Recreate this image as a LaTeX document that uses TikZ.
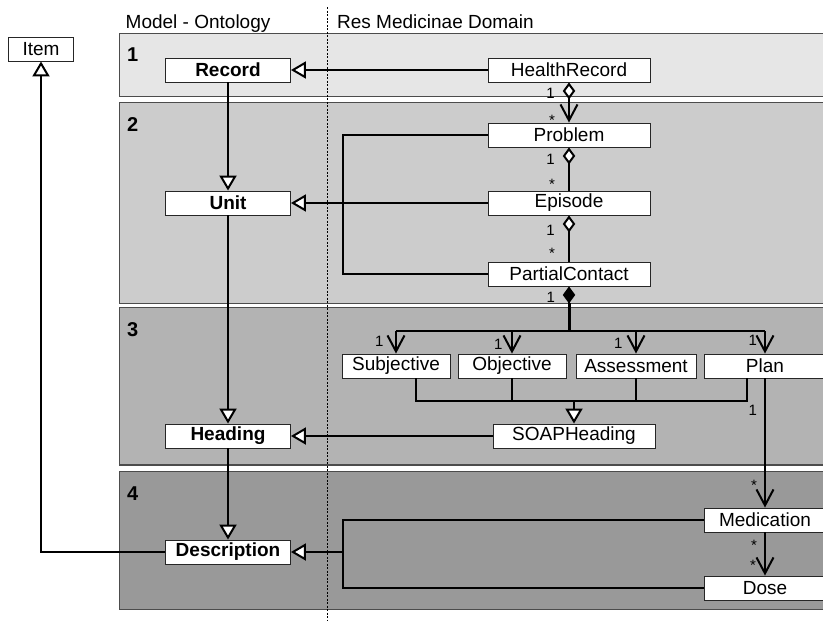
\documentclass[tikz,border=0pt]{standalone}
\usepackage{fontspec}
\setmainfont{Liberation Sans}
\usetikzlibrary{arrows.meta}
\definecolor{bandA}{HTML}{E6E6E6}
\definecolor{bandB}{HTML}{CCCCCC}
\definecolor{bandC}{HTML}{B3B3B3}
\definecolor{bandD}{HTML}{999999}
% a low-sitting asterisk whose box hugs the glyph
\newcommand{\lowstar}{\raisebox{-0.58em}[0.17em][0.17em]{*}}
\tikzset{
  genTip/.tip={Triangle[length=15pt,width=17pt,fill=white]},
  navTip/.tip={Straight Barb[length=16pt,width=17pt]},
  aggTip/.tip={Diamond[length=17pt,width=12.5pt,fill=white]},
  compTip/.tip={Diamond[length=17pt,width=12.5pt]},
  band/.style={draw=black!70,line width=1.1pt},
  cls/.style={draw=black!85,fill=white,line width=0.9pt,rectangle,inner sep=0pt,
    minimum height=24pt,font=\fontsize{19}{22}\selectfont},
  core/.style={cls,minimum width=125pt,font=\fontsize{19}{22}\selectfont\bfseries},
  dom/.style={cls,minimum width=162pt},
  mult/.style={anchor=base,inner sep=0pt,font=\fontsize{15}{17}\selectfont},
  bandnum/.style={anchor=north west,inner sep=0pt,font=\fontsize{20}{22}\selectfont\bfseries},
  head/.style={anchor=base west,inner sep=0pt,font=\fontsize{19}{22}\selectfont},
  link/.style={line width=2pt,draw=black},
}
\begin{document}
\begin{tikzpicture}[x=1pt,y=-1pt]
\useasboundingbox (0,0) rectangle (823,621);

% layer bands
\begin{scope}
  \clip (0,0) rectangle (823,621);
  \draw[band,fill=bandA] (119.5,33.3) rectangle (840,96.7);
  \draw[band,fill=bandB] (119.5,102.7) rectangle (840,303.3);
  \draw[band,fill=bandC] (119.5,307.7) rectangle (840,465);
  \draw[band,fill=bandD] (119.5,471.3) rectangle (840,609.3);
\end{scope}
\node[bandnum] (n1) at (127,47.5) {1};
\node[bandnum] (n2) at (127,117) {2};
\node[bandnum] (n3) at (127,322) {3};
\node[bandnum] (n4) at (127,486.5) {4};

% column divider and headings
\draw[line width=0.8pt,dash pattern=on 2pt off 1.5pt] (327.5,7) -- (327.5,621);
\node[head] (hModel) at (125.5,28.3) {Model - Ontology};
\node[head] (hDomain) at (337,28.3) {Res Medicinae Domain};

% ontology classes
\node[cls,minimum width=65pt] (Item) at (41,49) {Item};
\node[core] (Record) at (228,70) {Record};
\node[core] (Unit) at (228,203) {Unit};
\node[core] (Heading) at (228,436) {Heading};
\node[core] (Description) at (228,552) {Description};

% domain classes
\node[dom] (HealthRecord) at (569,70) {HealthRecord};
\node[dom] (Problem) at (569,135) {Problem};
\node[dom] (Episode) at (569,203) {Episode};
\node[dom] (PartialContact) at (569,274) {PartialContact};
\node[cls,minimum width=108pt] (Subjective) at (396,366) {Subjective};
\node[cls,minimum width=108pt] (Objective) at (512,366) {Objective};
\node[cls,minimum width=120pt] (Assessment) at (636,366) {Assessment};
\node[cls,minimum width=121pt] (Plan) at (765,366) {Plan};
\node[dom] (SOAPHeading) at (574,436) {SOAPHeading};
\node[cls,minimum width=122pt] (Medication) at (765,520) {Medication};
\node[cls,minimum width=122pt] (Dose) at (765,588) {Dose};

% helper points
\coordinate (busA) at (343,203);
\coordinate (busB) at (343,552);
\coordinate (compJ) at (569,331);
\coordinate (compBase) at ([yshift=-17pt]PartialContact.south);
\coordinate (soapJ) at (574,401);
\coordinate (sBot) at ([xshift=20pt]Subjective.south);
\coordinate (pBot) at ([xshift=-18pt]Plan.south);

% generalisations
\draw[link,-genTip] (HealthRecord.west) -- (Record.east);
\draw[link,-genTip] (Record.south) -- (Unit.north);
\draw[link,-genTip] (Unit.south) -- (Heading.north);
\draw[link,-genTip] (Heading.south) -- (Description.north);
\draw[link,-genTip] (Description.west) -| (Item.south);
\draw[link] (Problem.west) -| (busA) |- (PartialContact.west);
\draw[link,-genTip] (Episode.west) -- (Unit.east);
\draw[link] (sBot) |- (pBot |- soapJ) -- (pBot);
\draw[link] (Objective.south) -- (Objective.south |- soapJ);
\draw[link] (Assessment.south) -- (Assessment.south |- soapJ);
\draw[link,-genTip] (soapJ) -- (SOAPHeading.north);
\draw[link,-genTip] (SOAPHeading.west) -- (Heading.east);
\draw[link] (Medication.west) -| (busB) |- (Dose.west);
\draw[link,-genTip] (busB) -- (Description.east);

% aggregations
\draw[link,aggTip-navTip] (HealthRecord.south) -- (Problem.north);
\draw[link,aggTip-] (Problem.south) -- (Episode.north);
\draw[link,aggTip-] (Episode.south) -- (PartialContact.north);

% composition of SOAP parts
\draw[link,compTip-] (PartialContact.south) -- (compBase);
\draw[line width=3pt] (compBase) -- (compJ);
\draw[link] (Subjective.north |- compJ) -- (Plan.north |- compJ);
\draw[link,-navTip] (Subjective.north |- compJ) -- (Subjective.north);
\draw[link,-navTip] (Objective.north |- compJ) -- (Objective.north);
\draw[link,-navTip] (Assessment.north |- compJ) -- (Assessment.north);
\draw[link,-navTip] (Plan.north |- compJ) -- (Plan.north);

% plan and medication associations
\draw[link,-navTip] (Plan.south) -- (Medication.north);
\draw[link,-navTip] (Medication.south) -- (Dose.north);

% multiplicities
\node[mult] (m1) at (550.5,98) {1};
\node[mult] (m2) at (552,116.5) {\lowstar};
\node[mult] (m3) at (550.5,164.5) {1};
\node[mult] (m4) at (552,181) {\lowstar};
\node[mult] (m5) at (550.5,235) {1};
\node[mult] (m6) at (552,250) {\lowstar};
\node[mult] (m7) at (550.7,302) {1};
\node[mult] (m8) at (379.3,346) {1};
\node[mult] (m9) at (498.3,349) {1};
\node[mult] (m10) at (618.3,348) {1};
\node[mult] (m11) at (752.7,345) {1};
\node[mult] (m12) at (752.7,415) {1};
\node[mult] (m13) at (754,482) {\lowstar};
\node[mult] (m14) at (754,542) {\lowstar};
\node[mult] (m15) at (753,562) {\lowstar};
\end{tikzpicture}
\end{document}
